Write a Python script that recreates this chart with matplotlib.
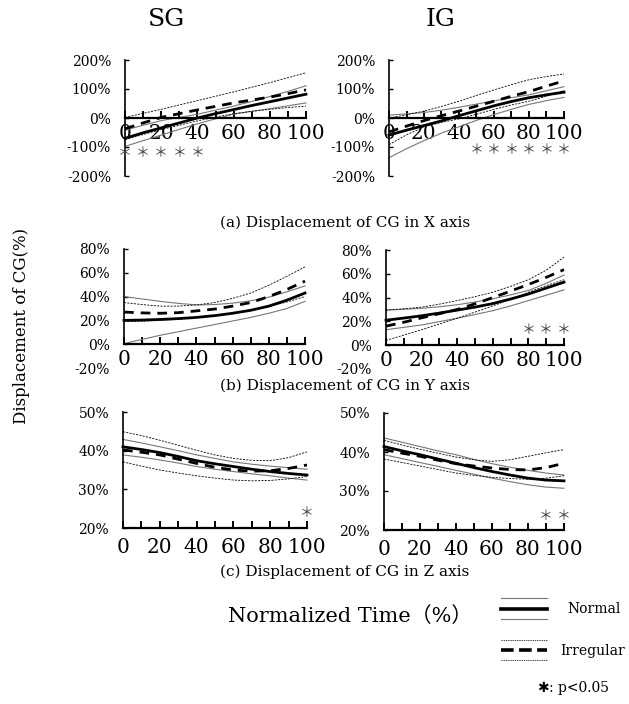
import matplotlib
matplotlib.use("Agg")
import matplotlib.pyplot as plt
from matplotlib.ticker import FuncFormatter, MultipleLocator, FixedLocator

plt.rcParams['font.family'] = ['DejaVu Serif', 'Noto Sans CJK JP']

# ---------------- data ----------------
t = [0, 10, 20, 30, 40, 50, 60, 70, 80, 90, 100]

# X axis displacement (%)
nx_sg_mean = [-70, -51, -34, -17, 0, 15, 29, 43, 56, 69, 82]
nx_sg_up = [-42, -25, -9, 2, 13, 27, 41, 57, 74, 92, 111]
nx_sg_lo = [-98, -78, -59, -39, -20, -3, 13, 23, 32, 42, 52]
ix_sg_mean = [-37, -17, 2, 15, 28, 40, 52, 62, 72, 84, 97]
ix_sg_up = [2, 16, 30, 45, 60, 75, 90, 106, 122, 139, 156]
ix_sg_lo = [-75, -57, -40, -25, -10, 3, 15, 23, 30, 36, 41]

nx_ig_mean = [-59, -42, -26, -10, 8, 25, 42, 57, 70, 80, 89]
nx_ig_up = [10, 14, 19, 27, 37, 48, 59, 70, 80, 94, 108]
nx_ig_lo = [-137, -106, -78, -52, -30, -8, 12, 30, 47, 60, 71]
ix_ig_mean = [-48, -28, -9, 8, 24, 41, 58, 75, 91, 110, 128]
ix_ig_up = [0, 11, 24, 40, 58, 78, 97, 115, 132, 143, 152]
ix_ig_lo = [-92, -58, -31, -15, -3, 13, 30, 45, 58, 75, 95]

# Y axis displacement (%)
ny_sg_mean = [20, 20.3, 20.8, 21.5, 22.5, 24, 26, 28.5, 32, 37, 43]
ny_sg_up = [40, 38, 36, 34.3, 33, 33.3, 34.5, 36.5, 39.5, 44, 49]
ny_sg_lo = [0.5, 4, 7.5, 10.5, 13.5, 16.5, 19.5, 22.5, 26, 30, 36]
iy_sg_mean = [27, 26.3, 26, 26.5, 28, 29.5, 32, 35, 40, 46, 53]
iy_sg_up = [35, 33.3, 32, 32, 33, 35, 38.5, 43, 49.5, 57, 65]
iy_sg_lo = [19, 19.3, 20, 21, 22.5, 24, 26, 28.5, 31.5, 35.5, 40]

ny_ig_mean = [21, 22.8, 24.7, 27, 29.5, 32, 35, 38.8, 43, 48, 53]
ny_ig_up = [29.5, 30.2, 31, 32.3, 34, 36.3, 39, 42.3, 46, 52, 59]
ny_ig_lo = [13, 15, 17, 19.8, 22.7, 25.8, 29, 33, 37.5, 42, 46.5]
iy_ig_mean = [16, 19.3, 23, 26.5, 30, 34.8, 40, 45.5, 51, 57, 63.5]
iy_ig_up = [29.5, 30.6, 32, 34.5, 37.5, 40.8, 44.5, 49.5, 55, 63, 74]
iy_ig_lo = [4, 8.5, 13, 17.8, 22.7, 27.8, 33, 38.5, 44.5, 50, 55]

# Z axis displacement (%)
nz_sg_mean = [41, 40.3, 39.5, 38.5, 37.4, 36.6, 35.9, 35.2, 34.6, 34.1, 33.7]
nz_sg_up = [42.9, 42, 41, 40, 38.9, 38, 37.1, 36.5, 36, 35.6, 35.2]
nz_sg_lo = [38.9, 38.3, 37.6, 36.8, 35.9, 35.2, 34.6, 34, 33.5, 32.9, 32.4]
iz_sg_mean = [40.2, 39.6, 38.9, 37.8, 36.7, 35.7, 35, 34.7, 34.8, 35.4, 36.3]
iz_sg_up = [44.9, 43.9, 42.7, 41.4, 40.1, 38.9, 38, 37.5, 37.4, 38.2, 39.7]
iz_sg_lo = [37.1, 36, 35, 34.2, 33.5, 32.9, 32.4, 32.2, 32.3, 32.7, 33.3]

nz_ig_mean = [41.4, 40.3, 39.3, 38.2, 37.1, 36, 35, 34.1, 33.3, 32.8, 32.6]
nz_ig_up = [43.6, 42.5, 41.4, 40.3, 39.3, 38.1, 37, 36.1, 35.3, 34.6, 34.1]
nz_ig_lo = [39.3, 38.3, 37.3, 36.3, 35.3, 34.3, 33.3, 32.4, 31.6, 31, 30.7]
iz_ig_mean = [40.6, 39.7, 38.9, 37.9, 37, 36.4, 35.9, 35.5, 35.4, 36, 37.1]
iz_ig_up = [43, 41.8, 40.7, 39.7, 38.7, 38, 37.6, 38, 38.9, 39.8, 40.6]
iz_ig_lo = [38.2, 37.3, 36.4, 35.5, 34.6, 34, 33.5, 33.2, 33, 33.3, 33.9]

# significant time points (p<0.05)
sig_x_sg = [0, 10, 20, 30, 40]
sig_x_ig = [50, 60, 70, 80, 90, 100]
sig_y_sg = []
sig_y_ig = [80, 90, 100]
sig_z_sg = [100]
sig_z_ig = [90, 100]

group_titles = ["SG", "IG"]
captions = ["(a) Displacement of CG in X axis",
            "(b) Displacement of CG in Y axis",
            "(c) Displacement of CG in Z axis"]

# ---------------- figure ----------------
W, H = 629, 704
fig = plt.figure(figsize=(W / 100, H / 100), dpi=100)


def rect(x0, x1, y_top, y_bot):
    return [x0 / W, 1 - y_bot / H, (x1 - x0) / W, (y_bot - y_top) / H]


panels = [
    (rect(125, 306, 60, 176), (-200, 200), [-200, -100, 0, 100, 200], 0,
     (nx_sg_mean, nx_sg_up, nx_sg_lo, ix_sg_mean, ix_sg_up, ix_sg_lo), sig_x_sg, -122, None, 4),
    (rect(389, 564, 60, 176), (-200, 200), [-200, -100, 0, 100, 200], 0,
     (nx_ig_mean, nx_ig_up, nx_ig_lo, ix_ig_mean, ix_ig_up, ix_ig_lo), sig_x_ig, -110, None, 4),
    (rect(124, 305, 249, 368), (-20, 80), [-20, 0, 20, 40, 60, 80], 0,
     (ny_sg_mean, ny_sg_up, ny_sg_lo, iy_sg_mean, iy_sg_up, iy_sg_lo), sig_y_sg, 13, (0, 80), 4),
    (rect(386, 564, 250, 369), (-20, 80), [-20, 0, 20, 40, 60, 80], 0,
     (ny_ig_mean, ny_ig_up, ny_ig_lo, iy_ig_mean, iy_ig_up, iy_ig_lo), sig_y_ig, 13, (0, 80), 4),
    (rect(123, 307, 412, 528), (20, 50), [20, 30, 40, 50], 20,
     (nz_sg_mean, nz_sg_up, nz_sg_lo, iz_sg_mean, iz_sg_up, iz_sg_lo), sig_z_sg, 23.9, None, 7),
    (rect(384, 564, 413, 530), (20, 50), [20, 30, 40, 50], 20,
     (nz_ig_mean, nz_ig_up, nz_ig_lo, iz_ig_mean, iz_ig_up, iz_ig_lo), sig_z_ig, 23.6, None, 7),
]

pct = FuncFormatter(lambda v, p: f"{v:.0f}%")

for r, ylim, yt, xpos, d, sig, sy, lb, pad in panels:
    ax = fig.add_axes(r)
    ax.set_facecolor('none')
    mean_n, up_n, lo_n, mean_i, up_i, lo_i = d
    ax.plot(t, up_n, color='#777777', lw=0.8, clip_on=False)
    ax.plot(t, lo_n, color='#777777', lw=0.8, clip_on=False)
    ax.plot(t, up_i, color='black', lw=0.6, ls=(0, (2.5, 1.5)), clip_on=False)
    ax.plot(t, lo_i, color='black', lw=0.6, ls=(0, (2.5, 1.5)), clip_on=False)
    ax.plot(t, mean_n, color='black', lw=2.0, clip_on=False)
    ax.plot(t, mean_i, color='black', lw=2.0, ls=(0, (3.5, 2.5)), clip_on=False)
    for sx in sig:
        ax.text(sx, sy, "＊", ha='center', va='center', fontsize=10,
                family=['Noto Sans CJK JP'], color='#444444')
    ax.set_xlim(0, 100)
    ax.set_ylim(*ylim)
    ax.spines['top'].set_visible(False)
    ax.spines['right'].set_visible(False)
    ax.spines['bottom'].set_position(('data', xpos))
    ax.spines['bottom'].set_linewidth(1.6)
    ax.spines['left'].set_linewidth(1.2)
    ax.xaxis.set_major_locator(FixedLocator([0, 20, 40, 60, 80, 100]))
    ax.xaxis.set_minor_locator(MultipleLocator(10))
    ax.tick_params(axis='x', which='both', direction='in', length=5, width=1.4,
                   labelsize=14.5, pad=pad)
    ax.yaxis.set_major_locator(FixedLocator(yt))
    ax.yaxis.set_major_formatter(pct)
    ax.tick_params(axis='y', direction='in', length=3, width=1.0, labelsize=10, pad=10)
    if lb is not None:
        ax.spines['left'].set_bounds(*lb)
        for tk, v in zip(ax.yaxis.get_major_ticks(), yt):
            if v < lb[0]:
                tk.tick1line.set_visible(False)

# titles and captions
fig.text(166 / W, 1 - 20 / H, group_titles[0], ha='center', va='center', fontsize=18)
fig.text(441 / W, 1 - 20 / H, group_titles[1], ha='center', va='center', fontsize=18)
for cap, yy in zip(captions, [223, 386, 572]):
    fig.text(345 / W, 1 - yy / H, cap, ha='center', va='center', fontsize=11)

fig.text(22 / W, 1 - 326 / H, "Displacement of CG(%)", rotation=90,
         ha='center', va='center', fontsize=12)
fig.text(350 / W, 1 - 616 / H, "Normalized Time（%）", ha='center', va='center',
         fontsize=15)

# legend
lg = fig.add_axes([0, 0, 1, 1])
lg.set_xlim(0, W)
lg.set_ylim(H, 0)
lg.axis('off')
lg.plot([501, 547], [598, 598], color='#777777', lw=0.8)
lg.plot([501, 547], [619, 619], color='#777777', lw=0.8)
lg.plot([501, 547], [609, 609], color='black', lw=2.6)
lg.text(567, 609, "Normal", ha='left', va='center', fontsize=10)
lg.plot([501, 547], [640, 640], color='black', lw=0.5, ls=(0, (2, 1.2)))
lg.plot([501, 547], [660, 660], color='black', lw=0.5, ls=(0, (2, 1.2)))
lg.plot([501, 547], [650, 650], color='black', lw=2.6, ls=(0, (3.5, 1.5)))
lg.text(560, 651, "Irregular", ha='left', va='center', fontsize=10)
lg.text(537, 688, "✱", ha='left', va='center', fontsize=10, family=['DejaVu Sans'])
lg.text(549, 688, ": p<0.05", ha='left', va='center', fontsize=10)

fig.savefig("out.png", dpi=100)
